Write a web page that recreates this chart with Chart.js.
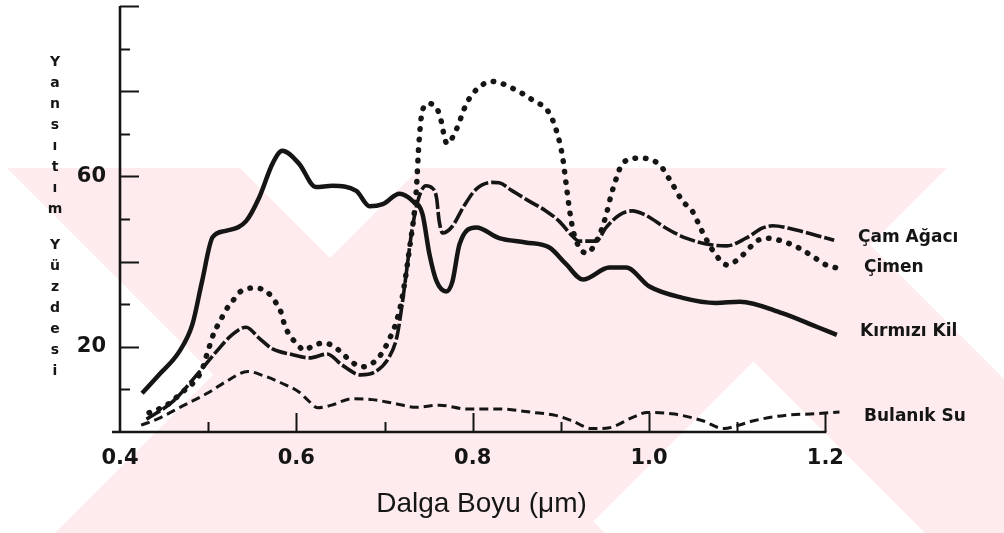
<!DOCTYPE html>
<html lang="tr">
<head>
<meta charset="utf-8">
<title>Yansıtım Yüzdesi</title>
<script src="https://cdn.jsdelivr.net/npm/chart.js@4"></script>
<style>
  html, body { margin: 0; padding: 0; background: #fff; }
  #wrap { width: 1004px; height: 533px; }
</style>
</head>
<body>
<div id="wrap"><canvas id="chart" width="1004" height="533"></canvas></div>
<script>
// ===== Data =====
const SERIES_NAMES = ["Çam Ağacı", "Çimen", "Kırmızı Kil", "Bulanık Su"];

const CAM_X = [0.43, 0.459, 0.49, 0.509, 0.527, 0.543, 0.558, 0.573, 0.595, 0.615, 0.635, 0.652, 0.673, 0.69, 0.705, 0.714, 0.72, 0.725, 0.731, 0.739, 0.747, 0.754, 0.759, 0.762, 0.766, 0.777, 0.79, 0.804, 0.822, 0.83, 0.845, 0.864, 0.883, 0.898, 0.913, 0.921, 0.94, 0.951, 0.966, 0.981, 0.996, 1.019, 1.042, 1.072, 1.088, 1.11, 1.129, 1.14, 1.167, 1.21];
const CAM_Y = [3.0, 7.0, 14.1, 18.8, 22.8, 24.6, 22.0, 19.5, 18.2, 17.4, 18.3, 15.7, 13.4, 14.2, 17.5, 22.3, 30.0, 37.8, 47.2, 55.1, 57.8, 57.3, 55.0, 49.5, 46.7, 48.3, 53.0, 57.0, 58.6, 58.5, 56.6, 54.2, 51.9, 49.5, 46.0, 44.8, 44.8, 47.9, 50.9, 51.9, 50.9, 47.9, 45.5, 43.9, 43.7, 45.5, 47.9, 48.4, 47.4, 45.0];

const CIMEN_X = [0.433, 0.446, 0.458, 0.467, 0.476, 0.486, 0.493, 0.499, 0.507, 0.513, 0.52, 0.527, 0.535, 0.55, 0.566, 0.577, 0.583, 0.586, 0.592, 0.6, 0.609, 0.62, 0.632, 0.643, 0.652, 0.663, 0.675, 0.688, 0.697, 0.705, 0.713, 0.72, 0.728, 0.736, 0.739, 0.743, 0.751, 0.762, 0.771, 0.781, 0.793, 0.804, 0.822, 0.845, 0.868, 0.887, 0.896, 0.902, 0.906, 0.91, 0.915, 0.929, 0.944, 0.951, 0.957, 0.963, 0.97, 0.989, 1.012, 1.027, 1.038, 1.049, 1.06, 1.076, 1.089, 1.106, 1.122, 1.133, 1.148, 1.17, 1.185, 1.201, 1.213];
const CIMEN_Y = [4.5, 5.6, 7.0, 8.7, 10.3, 12.2, 14.6, 18.5, 23.5, 25.8, 28.6, 30.5, 32.7, 33.8, 33.0, 30.3, 27.9, 25.6, 22.8, 20.9, 19.2, 20.4, 20.9, 20.0, 18.5, 16.4, 15.3, 16.4, 18.5, 21.6, 25.6, 31.5, 42.5, 56.6, 67.7, 75.5, 77.1, 74.8, 67.7, 70.8, 77.1, 80.3, 82.3, 80.7, 77.9, 74.8, 70.0, 64.5, 58.2, 51.9, 46.4, 42.0, 46.4, 50.7, 55.6, 59.6, 63.1, 64.3, 62.7, 58.0, 54.2, 51.9, 47.2, 41.5, 39.2, 41.5, 44.8, 45.5, 45.0, 43.2, 41.3, 39.2, 38.5];

const KIL_X = [0.425, 0.444, 0.467, 0.482, 0.493, 0.505, 0.52, 0.543, 0.558, 0.573, 0.584, 0.603, 0.622, 0.641, 0.668, 0.683, 0.698, 0.717, 0.732, 0.743, 0.751, 0.759, 0.77, 0.777, 0.785, 0.804, 0.83, 0.86, 0.887, 0.906, 0.925, 0.955, 0.974, 1.0, 1.038, 1.076, 1.103, 1.151, 1.19, 1.213];
const KIL_Y = [9.1, 13.4, 18.8, 25.2, 35.3, 45.7, 47.2, 49.5, 55.1, 63.0, 66.0, 63.0, 57.5, 57.8, 56.6, 53.0, 53.5, 55.9, 54.2, 51.2, 41.7, 35.4, 33.0, 35.3, 44.0, 48.0, 45.5, 44.5, 43.3, 39.4, 35.8, 38.6, 38.6, 34.2, 31.5, 30.3, 30.6, 27.9, 24.7, 22.8];

const SU_X = [0.424, 0.444, 0.47, 0.5, 0.52, 0.545, 0.563, 0.583, 0.603, 0.613, 0.624, 0.64, 0.663, 0.686, 0.709, 0.736, 0.762, 0.793, 0.83, 0.868, 0.894, 0.913, 0.935, 0.955, 0.982, 0.998, 1.029, 1.06, 1.085, 1.1, 1.12, 1.154, 1.19, 1.216];
const SU_Y = [1.6, 3.2, 6.0, 9.2, 11.8, 14.2, 13.2, 11.5, 9.4, 7.5, 5.7, 6.3, 7.8, 7.6, 6.8, 5.8, 6.3, 5.4, 5.4, 4.6, 3.9, 2.6, 0.8, 1.0, 3.5, 4.6, 4.2, 2.7, 0.8, 1.5, 2.7, 3.9, 4.3, 4.7];

const X_TICKS = [0.4, 0.5, 0.6, 0.7, 0.8, 0.9, 1.0, 1.1, 1.2];
const X_LABELED = [0.4, 0.6, 0.8, 1.0, 1.2];
const Y_TICKS = [10, 20, 30, 40, 50, 60, 70, 80, 90, 100];
const Y_LABELED = [20, 60];

const X_TITLE = "Dalga Boyu (μm)";
const Y_TITLE_WORDS = ["Yansıtım", "Yüzdesi"];

// ===== Styling =====
const INK = "#151515";
const WM_COLOR = "#fdebee";
const WM_TOP = 168;
const WM_BACK = [[-161, 72], [392, 625]];   // bands along x - y = c
const WM_FWD = [[588, 1115]];               // bands along x + y = c

const LABEL_POS = [
  { x: 858, y: 238 },
  { x: 864, y: 268 },
  { x: 860, y: 332 },
  { x: 864, y: 417 }
];

function toPoints(xs, ys) {
  return xs.map((x, i) => ({ x: x, y: ys[i] }));
}

function near(list, v) {
  return list.some(t => Math.abs(t - v) < 1e-6);
}

// ===== Plugins =====
const watermark = {
  id: "watermark",
  beforeDraw(chart) {
    const { ctx, width, height } = chart;
    ctx.save();
    ctx.beginPath();
    ctx.rect(0, WM_TOP, width, height - WM_TOP);
    ctx.clip();
    ctx.fillStyle = WM_COLOR;
    WM_BACK.forEach(([c1, c2]) => {
      ctx.beginPath();
      ctx.moveTo(c1 + WM_TOP, WM_TOP);
      ctx.lineTo(c2 + WM_TOP, WM_TOP);
      ctx.lineTo(c2 + height, height);
      ctx.lineTo(c1 + height, height);
      ctx.closePath();
      ctx.fill();
    });
    WM_FWD.forEach(([s1, s2]) => {
      ctx.beginPath();
      ctx.moveTo(s1 - WM_TOP, WM_TOP);
      ctx.lineTo(s2 - WM_TOP, WM_TOP);
      ctx.lineTo(s2 - height, height);
      ctx.lineTo(s1 - height, height);
      ctx.closePath();
      ctx.fill();
    });
    ctx.restore();
  }
};

// axis lines with inward tick marks, the stacked y title and the curve names
const frame = {
  id: "frame",
  afterDraw(chart) {
    const { ctx, chartArea } = chart;
    const xs = chart.scales.x;
    const ys = chart.scales.y;
    const x0 = chartArea.left;
    const yb = chartArea.bottom;
    const xEnd = xs.getPixelForValue(1.2);

    ctx.save();
    ctx.strokeStyle = INK;
    ctx.lineCap = "butt";

    ctx.lineWidth = 2.6;
    ctx.beginPath();
    ctx.moveTo(x0, chartArea.top);
    ctx.lineTo(x0, yb + 1);
    ctx.moveTo(x0 - 8, yb);
    ctx.lineTo(xEnd + 1, yb);
    ctx.stroke();

    ctx.lineWidth = 2;
    ctx.beginPath();
    Y_TICKS.forEach(v => {
      const py = Math.round(ys.getPixelForValue(v)) + 0.5;
      const len = v % 20 === 0 ? 19 : 10;
      ctx.moveTo(x0, py);
      ctx.lineTo(x0 + len, py);
    });
    X_TICKS.slice(1).forEach(v => {
      const px = Math.round(xs.getPixelForValue(v)) + 0.5;
      const len = near([0.6, 0.8, 1.0, 1.2], v) ? 19 : 10;
      ctx.moveTo(px, yb);
      ctx.lineTo(px, yb - len);
    });
    ctx.stroke();

    ctx.fillStyle = INK;
    ctx.textAlign = "center";
    ctx.textBaseline = "middle";
    ctx.font = "bold 14px 'DejaVu Sans'";
    let ly = 62;
    Y_TITLE_WORDS.forEach((word, w) => {
      if (w > 0) ly += 15;
      Array.from(word).forEach(ch => {
        ctx.fillText(ch, 55, ly);
        ly += 21;
      });
    });

    ctx.textAlign = "left";
    ctx.font = "bold 17px 'DejaVu Sans'";
    SERIES_NAMES.forEach((name, i) => {
      ctx.fillText(name, LABEL_POS[i].x, LABEL_POS[i].y);
    });
    ctx.restore();
  }
};

// keep the plot frame where the figure has it: no extra room for edge labels
function noEdgePadding(s) {
  s.paddingTop = 0;
  s.paddingBottom = 0;
  s.paddingLeft = 0;
  s.paddingRight = 0;
}

// ===== Chart =====
const lineBase = {
  pointRadius: 0,
  pointHoverRadius: 0,
  fill: false,
  borderColor: INK,
  cubicInterpolationMode: "monotone",
  clip: false
};

new Chart(document.getElementById("chart"), {
  type: "line",
  data: {
    datasets: [
      Object.assign({}, lineBase, {
        label: SERIES_NAMES[0],
        data: toPoints(CAM_X, CAM_Y),
        borderWidth: 3.6,
        borderDash: [16, 3]
      }),
      Object.assign({}, lineBase, {
        label: SERIES_NAMES[1],
        data: toPoints(CIMEN_X, CIMEN_Y),
        borderWidth: 5.5,
        borderDash: [0.5, 10],
        borderCapStyle: "round"
      }),
      Object.assign({}, lineBase, {
        label: SERIES_NAMES[2],
        data: toPoints(KIL_X, KIL_Y),
        borderWidth: 4.5,
        borderJoinStyle: "round"
      }),
      Object.assign({}, lineBase, {
        label: SERIES_NAMES[3],
        data: toPoints(SU_X, SU_Y),
        borderWidth: 3,
        borderDash: [9, 5]
      })
    ]
  },
  options: {
    responsive: false,
    devicePixelRatio: 1,
    animation: false,
    events: [],
    layout: { padding: { top: 6, right: 161, left: 0, bottom: 0 } },
    plugins: {
      legend: { display: false },
      tooltip: { enabled: false }
    },
    scales: {
      x: {
        type: "linear",
        min: 0.4,
        max: 1.22,
        afterBuildTicks: s => { s.ticks = X_TICKS.map(v => ({ value: v })); },
        afterFit: s => { s.height = 101; noEdgePadding(s); },
        grid: { display: false },
        border: { display: false },
        ticks: {
          autoSkip: false,
          maxRotation: 0,
          padding: 6,
          color: INK,
          font: { family: "'DejaVu Sans'", size: 21, weight: "bold" },
          callback: v => near(X_LABELED, v) ? v.toFixed(1) : ""
        },
        title: {
          display: true,
          text: X_TITLE,
          color: INK,
          padding: { top: 0, bottom: 12 },
          font: { family: "'Liberation Sans', Arial", size: 28, weight: "normal" }
        }
      },
      y: {
        type: "linear",
        min: 0,
        max: 100,
        afterBuildTicks: s => { s.ticks = Y_TICKS.map(v => ({ value: v })); },
        afterFit: s => { s.width = 120; noEdgePadding(s); },
        grid: { display: false },
        border: { display: false },
        ticks: {
          autoSkip: false,
          padding: 6,
          color: INK,
          font: { family: "'DejaVu Sans'", size: 21, weight: "bold" },
          callback: v => near(Y_LABELED, v) ? String(v) : ""
        }
      }
    }
  },
  plugins: [watermark, frame]
});
</script>
</body>
</html>
